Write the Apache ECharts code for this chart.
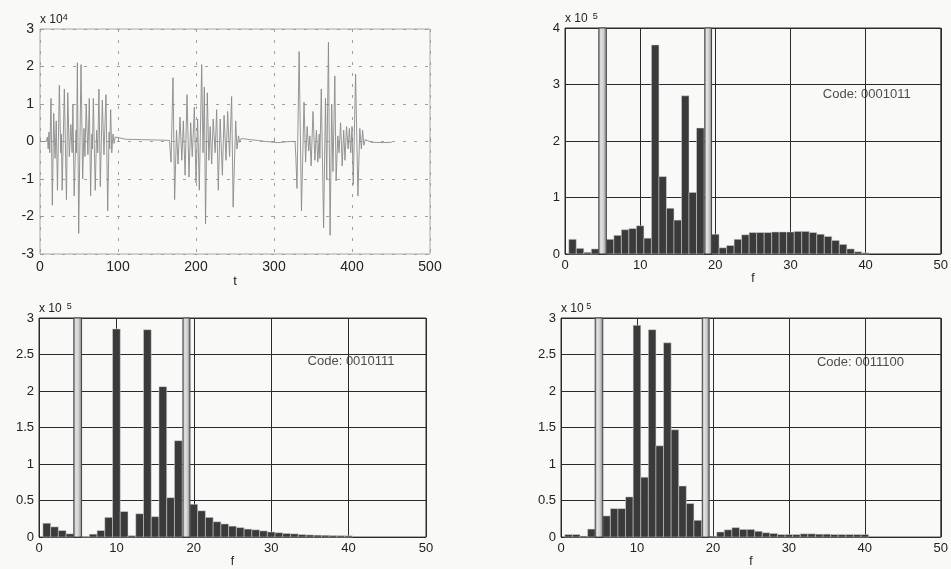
<!DOCTYPE html>
<html>
<head>
<meta charset="utf-8">
<script src="https://cdn.jsdelivr.net/npm/echarts@6/dist/echarts.min.js"></script>
<style>
  html, body { margin: 0; padding: 0; background: #f9f9f7; }
  #chart { width: 951px; height: 569px; }
</style>
</head>
<body>
<div id="chart"></div>
<script>
// time signal (t, amplitude in units of 1e4)
const signalT = [
  0, 8, 9.5, 10.5, 11.5, 12.5, 14.1, 15.8, 17.6, 19.3, 20.8, 22.4, 24.8, 26.6, 27.4, 28.4,
  31.2, 33.9, 35.6, 37.6, 39.6, 41.2, 42.2, 43.8, 46.2, 46.8, 47.9, 49.6, 52.6, 54.7, 56.4,
  57.6, 59.2, 61.4, 63.2, 64.9, 66.5, 67.2, 68.4, 70.8, 72.6, 74.0, 75.6, 77.3, 79.9, 82.0,
  84.6, 86.8, 88.6, 89.4, 90.6, 92.0, 93.6, 95.0, 96.5, 98.5, 110, 130, 150, 166,
  167.0, 168.0, 170.5, 172.6, 175.0, 177.0, 179.5, 181.8, 183.8, 186.0, 188.5, 191.0, 193.2,
  195.2, 197.9, 200.0, 202.1, 204.2, 207.3, 209.0, 210.7, 212.2, 214.5, 216.5, 218.2, 220.1,
  222.0, 224.5, 226.5, 228.6, 231.0, 233.8, 236.0, 238.5, 240.6, 243.0, 245.7, 247.6, 250.9,
  252.5, 254.5, 256.0, 258.0, 270, 290, 305, 320, 327,
  328.0, 329.5, 332.2, 335.2, 338.5, 340.5, 342.5, 344.5, 346.0, 347.6, 350.0, 352.4, 354.4,
  356.2, 358.0, 358.8, 360.6, 363.6, 366.0, 367.6, 369.8, 371.9, 374.0, 375.6, 378.0, 379.6,
  381.8, 383.4, 385.4, 387.4, 389.4, 391.0, 393.0, 395.0, 396.6, 398.4, 400.0, 401.6, 404.6,
  407.6, 410.0, 412.0, 413.6, 415.2, 417.0, 425, 440, 451
];
const signalV = [
  0, 0, 0.12, -0.2, 0.25, -0.3, 1.15, -1.7, 0.75, -0.45, 0.55, -1.3, 1.5, -0.3, 0.2, -1.3,
  1.4, -1.55, 1.3, -0.4, 0.45, -0.3, 1.0, -1.45, 0.3, -0.3, 2.1, -2.45, 2.05, -1.0, 0.35,
  -0.4, 1.0, -0.35, 1.15, -1.45, 0.2, -0.2, 1.15, -1.3, 0.3, -0.3, 1.4, -1.2, 1.1, -0.35,
  1.25, -1.85, 0.25, -0.2, 0.85, -0.3, 0.2, -0.05, 0.12, 0.07, 0.06, 0.05, 0.04, 0.03,
  0, -0.55, 1.7, -1.55, 0.3, -0.6, 0.65, -0.5, 0.55, -0.9, 1.25, -0.95, 0.5,
  -0.4, 0.92, -1.1, 0.6, -1.3, 2.05, -0.3, 1.45, -2.2, 1.3, -0.5, 0.4, -0.6,
  0.6, -0.3, 0.85, -1.3, 0.6, -0.9, 0.7, -0.5, 0.8, -0.4, 1.2, -1.75, 0.55,
  -0.2, 0.15, -0.02, 0.08, 0.05, 0.0, -0.03, 0.0, 0,
  -0.4, -1.25, 2.4, -1.85, 1.05, -0.55, 0.4, -0.25, 0.15, -0.65, 0.8, -0.5, 0.3,
  -0.55, 0.2, -0.45, 1.4, -2.3, 1.15, -1.0, 2.65, -2.5, 1.0, -0.8, 1.75, -1.05,
  0.15, -0.3, 0.5, -0.65, 0.3, -0.5, 0.4, -0.2, 0.35, -0.3, 0.4, -1.15, 1.8,
  -1.45, 0.35, -0.2, 0.3, -0.1, 0.05, -0.02, -0.03, -0.02
];

// spectra (f bins, magnitude in units of 1e5), null = hidden under the marker band
const freqBins = [
  1, 2, 3, 4, 5, 6, 7, 8, 9, 10, 11, 12, 13, 14, 15, 16, 17, 18, 19, 20,
  21, 22, 23, 24, 25, 26, 27, 28, 29, 30, 31, 32, 33, 34, 35, 36, 37, 38, 39, 40
];
const spec0001011 = [
  0.26, 0.10, 0.03, 0.09, null, 0.26, 0.33, 0.43, 0.45, 0.50,
  0.28, 3.70, 1.37, 0.81, 0.60, 2.80, 1.09, 2.23, null, 0.35,
  0.11, 0.15, 0.26, 0.34, 0.38, 0.38, 0.38, 0.39, 0.39, 0.39,
  0.40, 0.40, 0.38, 0.35, 0.31, 0.24, 0.17, 0.09, 0.04, 0.02
];
const spec0010111 = [
  0.19, 0.14, 0.09, 0.045, null, 0.01, 0.04, 0.09, 0.27, 2.85,
  0.35, 0.02, 0.32, 2.84, 0.28, 2.06, 0.54, 1.32, null, 0.45,
  0.36, 0.27, 0.21, 0.18, 0.15, 0.13, 0.11, 0.10, 0.085, 0.07,
  0.06, 0.05, 0.045, 0.035, 0.03, 0.027, 0.025, 0.022, 0.02, 0.018
];
const spec0011100 = [
  0.035, 0.035, 0.015, 0.11, null, 0.29, 0.39, 0.39, 0.55, 2.90,
  0.82, 2.84, 1.25, 2.66, 1.47, 0.70, 0.46, 0.23, null, 0.015,
  0.07, 0.10, 0.13, 0.105, 0.105, 0.08, 0.06, 0.05, 0.035, 0.035,
  0.035, 0.045, 0.045, 0.04, 0.04, 0.035, 0.035, 0.035, 0.035, 0.035
];
const markerBands = [[4.5, 5.5], [18.6, 19.5]];
const codeTexts = ['Code: 0001011', 'Code: 0010111', 'Code: 0011100'];
const codeAnchors = [[34.3, 2.83], [34.7, 2.41], [33.7, 2.39]];

const FONT = '"Liberation Sans", Arial, Helvetica, sans-serif';
const chart = echarts.init(document.getElementById('chart'), null, { renderer: 'canvas' });

const grids = [
  { left: 40, top: 29, width: 390, height: 225, show: true, borderColor: '#a8a8a8', borderWidth: 1 },
  { left: 565, top: 28, width: 380, height: 226, show: true, borderColor: '#333', borderWidth: 1 },
  { left: 39, top: 318, width: 387, height: 221, show: true, borderColor: '#333', borderWidth: 1 },
  { left: 561, top: 318, width: 382, height: 220, show: true, borderColor: '#333', borderWidth: 1 }
];

const labelStyle = { color: '#222', fontFamily: FONT, fontSize: 13 };

function histX(gridIndex) {
  return {
    gridIndex,
    type: 'value',
    min: 0,
    max: 50,
    interval: 10,
    axisLine: { show: false },
    axisTick: { show: false },
    axisLabel: { ...labelStyle, margin: 5 },
    splitLine: { show: true, lineStyle: { color: '#2a2a2a', width: 1 } },
    name: 'f',
    nameLocation: 'middle',
    nameGap: 13,
    nameTextStyle: { ...labelStyle, fontSize: 12 }
  };
}

function histY(gridIndex, max, interval, sup) {
  return {
    gridIndex,
    type: 'value',
    min: 0,
    max,
    interval,
    axisLine: { show: false },
    axisTick: { show: false },
    axisLabel: { ...labelStyle, margin: 5 },
    splitLine: { show: true, lineStyle: { color: '#2a2a2a', width: 1 } },
    name: '{a|x 10}{b|' + sup + '}',
    nameLocation: 'end',
    nameGap: 2,
    nameTextStyle: {
      align: 'left',
      rich: {
        a: { ...labelStyle, fontSize: 12, lineHeight: 14 },
        b: { ...labelStyle, fontSize: 9, verticalAlign: 'top', lineHeight: 14 }
      }
    }
  };
}

function renderBar(params, api) {
  const x = api.value(0);
  const h = api.value(1);
  if (h == null || isNaN(h)) return null;
  const p0 = api.coord([x - 0.5, h]);
  const p1 = api.coord([x + 0.5, 0]);
  return {
    type: 'rect',
    shape: { x: p0[0], y: p0[1], width: p1[0] - p0[0], height: p1[1] - p0[1] },
    style: { fill: '#3a3a3a', stroke: '#d8d8d8', lineWidth: 0.5 }
  };
}

function renderBand(params, api) {
  const a = api.coord([api.value(0), 0]);
  const b = api.coord([api.value(1), 0]);
  const cs = params.coordSys;
  return {
    type: 'rect',
    shape: { x: a[0], y: cs.y, width: b[0] - a[0], height: cs.height },
    style: {
      fill: new echarts.graphic.LinearGradient(0, 0, 1, 0, [
        { offset: 0, color: '#8c8c8c' },
        { offset: 0.3, color: '#e4e4e4' },
        { offset: 0.6, color: '#cfcfcf' },
        { offset: 1, color: '#7a7a7a' }
      ]),
      stroke: '#444',
      lineWidth: 1
    }
  };
}

const spectra = [spec0001011, spec0010111, spec0011100];
const series = [
  {
    type: 'line',
    xAxisIndex: 0,
    yAxisIndex: 0,
    showSymbol: false,
    symbol: 'none',
    lineStyle: { color: '#8a8a8a', width: 0.9 },
    data: signalT.map((t, i) => [t, signalV[i]]),
    animation: false
  }
];

spectra.forEach((spec, k) => {
  const axis = k + 1;
  series.push({
    type: 'custom',
    xAxisIndex: axis,
    yAxisIndex: axis,
    renderItem: renderBar,
    data: freqBins.map((f, i) => [f, spec[i]]),
    z: 3
  });
  series.push({
    type: 'custom',
    xAxisIndex: axis,
    yAxisIndex: axis,
    renderItem: renderBand,
    data: markerBands,
    z: 4
  });
  series.push({
    type: 'scatter',
    xAxisIndex: axis,
    yAxisIndex: axis,
    symbolSize: 0,
    data: [codeAnchors[k]],
    label: {
      show: true,
      position: 'inside',
      align: 'left',
      verticalAlign: 'middle',
      formatter: codeTexts[k],
      color: '#222',
      fontFamily: FONT,
      fontSize: 13
    },
    z: 5
  });
});

const option = {
  backgroundColor: '#f9f9f7',
  animation: false,
  grid: grids,
  xAxis: [
    {
      gridIndex: 0,
      type: 'value',
      min: 0,
      max: 500,
      interval: 100,
      axisLine: { show: false },
      axisTick: { show: true, inside: true, length: 4, lineStyle: { color: '#999' } },
      axisLabel: { ...labelStyle, fontSize: 14, margin: 6 },
      splitLine: { show: true, lineStyle: { color: '#a0a0a0', type: [3, 8], width: 1 } },
      name: 't',
      nameLocation: 'middle',
      nameGap: 19,
      nameTextStyle: { ...labelStyle, fontSize: 13 }
    },
    histX(1),
    histX(2),
    histX(3)
  ],
  yAxis: [
    {
      gridIndex: 0,
      type: 'value',
      min: -3,
      max: 3,
      interval: 1,
      axisLine: { show: false },
      axisTick: { show: true, inside: true, length: 4, lineStyle: { color: '#999' } },
      axisLabel: { ...labelStyle, fontSize: 14, margin: 6 },
      splitLine: { show: true, lineStyle: { color: '#a0a0a0', type: [3, 8], width: 1 } },
      name: '{a|x 10}{b|4}',
      nameLocation: 'end',
      nameGap: 2,
      nameTextStyle: {
        align: 'left',
        rich: {
          a: { ...labelStyle, fontSize: 12, lineHeight: 14 },
          b: { ...labelStyle, fontSize: 9, verticalAlign: 'top', lineHeight: 14 }
        }
      }
    },
    histY(1, 4, 1, '  5'),
    histY(2, 3, 0.5, '  5'),
    histY(3, 3, 0.5, ' 5')
  ],
  series
};

chart.setOption(option);
</script>
</body>
</html>
